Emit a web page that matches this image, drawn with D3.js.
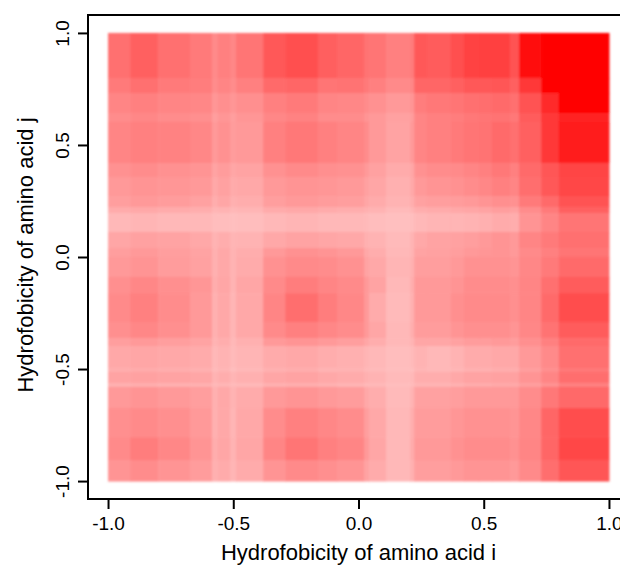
<!DOCTYPE html>
<html>
<head>
<meta charset="utf-8">
<script src="https://cdn.jsdelivr.net/npm/d3@7"></script>
<style>
  body { margin: 0; background: #fff; }
  text { font-family: "Liberation Sans", Arial, sans-serif; fill: #000; }
</style>
</head>
<body>
<script>
// cell edges of the image (hydrophobicity values)
const xEdges = [-1.0, -0.912, -0.80, -0.673, -0.585, -0.561, -0.513, -0.489, -0.381, -0.293, -0.162, -0.086, 0.022, 0.042, 0.110, 0.206, 0.222, 0.273, 0.369, 0.421, 0.481, 0.533, 0.605, 0.641, 0.729, 0.800, 1.0]
const yEdges = [1.0, 0.799, 0.732, 0.643, 0.603, 0.420, 0.357, 0.272, 0.223, 0.196, 0.112, 0.040, 0.0, -0.089, -0.161, -0.290, -0.362, -0.397, -0.496, -0.513, -0.563, -0.580, -0.674, -0.804, -0.906, -1.0]

// redness in percent, one row per y cell (top to bottom), one value per x cell
const redness = [
  [56,62,56,52,46,50,47,54,65,69,63,60,55,54,50,52,65,64,69,74,75,75,68,97,100,100],
  [52,56,52,51,45,48,45,50,58,60,54,55,52,50,46,48,60,60,62,65,65,66,62,78,100,100],
  [48,50,48,47,41,44,41,44,50,52,48,47,45,43,40,42,51,53,54,56,57,58,56,68,84,100],
  [45,47,45,44,38,41,38,41,47,49,45,45,42,40,37,39,48,50,51,53,54,55,53,64,78,86],
  [48,50,49,47,40,43,39,40,50,53,50,48,45,40,36,40,48,50,52,54,55,58,56,62,78,89],
  [43,45,43,42,36,39,35,36,43,46,44,43,40,37,33,35,43,45,46,48,50,53,50,58,66,73],
  [40,42,41,40,34,37,33,34,40,42,41,40,37,35,31,34,40,42,43,45,47,50,48,57,65,72],
  [38,40,39,37,32,35,31,32,38,40,39,38,35,33,30,32,37,38,39,40,42,44,43,52,58,68],
  [33,34,33,32,29,30,28,29,33,34,33,32,31,30,27,29,32,33,34,35,36,38,37,45,52,62],
  [28,29,28,28,26,26,25,26,28,29,28,28,27,26,25,26,28,29,29,30,31,33,32,42,48,54],
  [35,37,36,34,30,32,29,30,34,36,35,34,31,30,27,30,34,36,37,38,40,42,40,48,52,56],
  [38,40,38,36,31,34,30,32,40,43,42,40,34,32,28,30,36,37,38,40,41,42,40,46,50,54],
  [40,42,39,37,31,34,30,33,43,46,45,43,36,34,29,31,38,38,40,43,43,43,42,47,52,58],
  [44,47,44,41,32,35,30,35,46,51,48,46,40,36,28,32,40,40,42,45,45,45,44,48,56,64],
  [46,50,45,40,31,34,29,34,48,57,51,47,40,33,27,31,40,40,44,46,46,46,44,48,58,70],
  [44,47,44,40,31,34,29,34,46,50,47,45,40,35,28,32,39,39,42,44,44,44,42,47,55,64],
  [38,40,38,36,30,32,28,31,40,42,40,38,35,32,28,30,35,35,37,39,39,40,39,44,50,58],
  [34,35,34,33,28,30,27,29,33,34,32,31,29,28,26,27,30,28,30,33,33,34,34,40,46,56],
  [32,33,32,31,27,29,26,28,31,32,30,30,28,27,26,26,29,28,29,31,31,32,32,38,44,53],
  [36,37,36,35,30,32,29,31,35,36,34,33,31,30,27,28,32,32,34,36,36,37,37,42,48,57],
  [31,32,31,31,28,29,27,28,31,32,31,30,28,28,26,27,30,30,31,33,33,34,34,38,43,50],
  [40,42,40,38,31,34,30,33,40,42,40,39,34,32,27,30,37,37,38,40,40,40,40,45,53,59],
  [44,46,44,40,31,34,29,34,45,50,47,45,38,34,28,32,39,39,41,43,43,43,42,47,60,70],
  [46,51,47,42,32,35,30,35,48,54,50,48,40,35,28,33,40,40,43,45,45,45,43,48,60,72],
  [42,45,42,39,31,33,29,33,42,46,44,42,36,33,28,31,38,38,40,42,42,42,40,46,57,66]
]

const ticks = [-1.0, -0.5, 0.0, 0.5, 1.0]
const tickLabels = ["-1.0", "-0.5", "0.0", "0.5", "1.0"]
const xTitle = "Hydrofobicity of amino acid i"
const yTitle = "Hydrofobicity of amino acid j"

const width = 620, height = 567

var svg = d3.select("body")
        .append("svg")
        .attr("width", width)
        .attr("height", height)

// R-style plot region: data range extended by 8%
const x = d3.scaleLinear().domain([-1.08, 1.08]).range([88, 629])
const y = d3.scaleLinear().domain([-1.08, 1.08]).range([499, 15])
const color = v => d3.interpolateRgb("#ffffff", "#ff0000")(v / 100)
const fmt = (d, i) => tickLabels[i]

// slight blur to mimic the resampled image
const defs = svg.append("defs")
defs.append("filter")
        .attr("id", "soft")
        .attr("x", "-5%").attr("y", "-5%")
        .attr("width", "110%").attr("height", "110%")
        .append("feGaussianBlur")
        .attr("stdDeviation", 0.9)

const cells = []
redness.forEach((row, j) => {
        row.forEach((v, i) => {
                cells.push({x0: xEdges[i], x1: xEdges[i + 1], y0: yEdges[j], y1: yEdges[j + 1], v: v})
        })
})

svg.append("g")
        .attr("filter", "url(#soft)")
        .selectAll("rect")
        .data(cells)
        .enter()
        .append("rect")
                .attr("x", d => x(d.x0))
                .attr("y", d => y(d.y0))
                .attr("width", d => x(d.x1) - x(d.x0) + 0.5)
                .attr("height", d => y(d.y1) - y(d.y0) + 0.5)
                .attr("fill", d => color(d.v))

// box
svg.append("rect")
        .attr("x", x(-1.08))
        .attr("y", y(1.08))
        .attr("width", x(1.08) - x(-1.08))
        .attr("height", y(-1.08) - y(1.08))
        .attr("fill", "none")
        .attr("stroke", "#000")
        .attr("stroke-width", 2)

// x axis
const gx = svg.append("g")
        .attr("transform", `translate(0,${y(-1.08)})`)
        .call(d3.axisBottom(x).tickValues(ticks).tickFormat(fmt).tickSize(10).tickSizeOuter(0))
gx.select(".domain").remove()
gx.selectAll("line").attr("stroke-width", 2)
gx.selectAll("text")
        .attr("y", 31)
        .attr("dy", null)
        .style("font-size", "19px")

// y axis
const gy = svg.append("g")
        .attr("transform", `translate(${x(-1.08)},0)`)
        .call(d3.axisLeft(y).tickValues(ticks).tickFormat(fmt).tickSize(10).tickSizeOuter(0))
gy.select(".domain").remove()
gy.selectAll("line").attr("stroke-width", 2)
gy.selectAll("text")
        .attr("x", null)
        .attr("dy", null)
        .attr("text-anchor", "middle")
        .attr("transform", "translate(-19,0) rotate(-90)")
        .style("font-size", "19px")

// axis titles
svg.append("text")
        .attr("x", x(0))
        .attr("y", 560)
        .attr("text-anchor", "middle")
        .style("font-size", "22px")
        .text(xTitle)

svg.append("text")
        .attr("transform", `translate(33,${y(0) - 2}) rotate(-90)`)
        .attr("text-anchor", "middle")
        .style("font-size", "22px")
        .text(yTitle)
</script>
</body>
</html>
